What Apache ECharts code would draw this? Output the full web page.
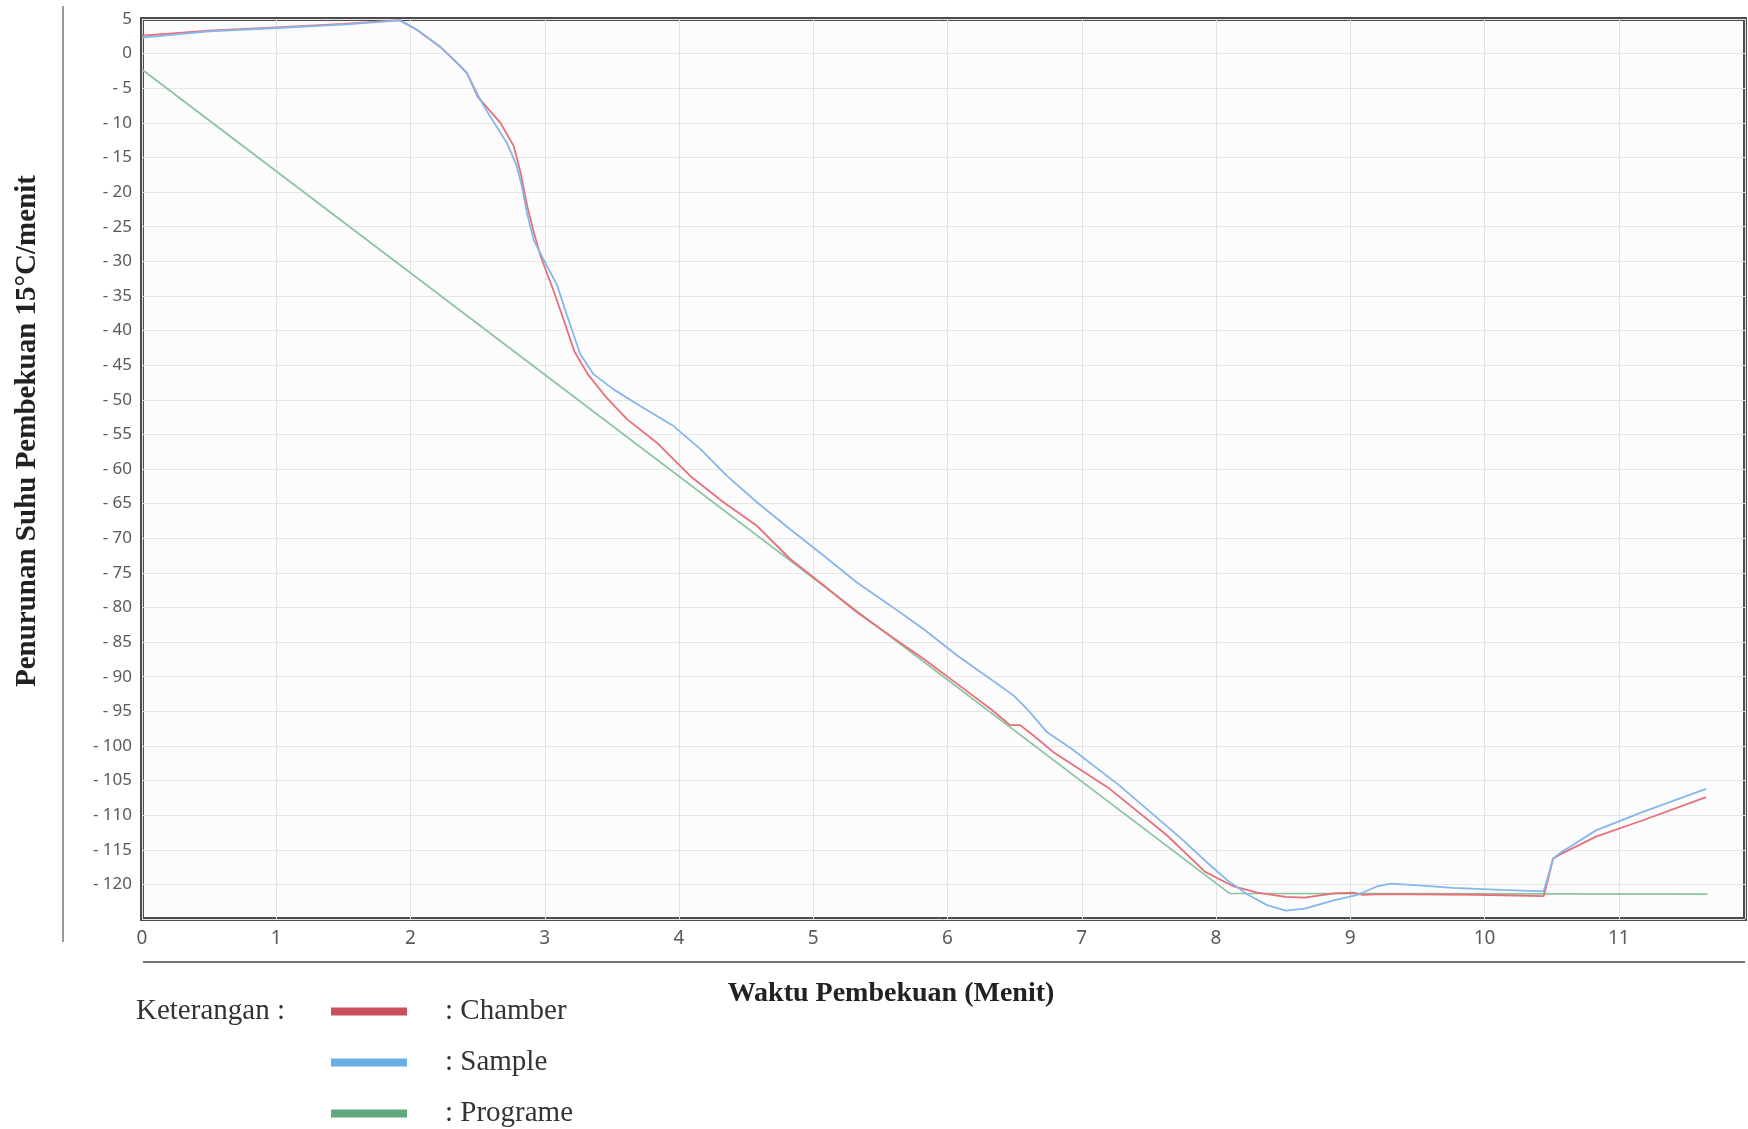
<!DOCTYPE html>
<html>
<head>
<meta charset="utf-8">
<script src="https://cdn.jsdelivr.net/npm/echarts@6/dist/echarts.min.js"></script>
<style>
  html, body { margin: 0; padding: 0; background: #ffffff; }
  #chart { width: 1748px; height: 1129px; }
</style>
</head>
<body>
<div id="chart"></div>
<script>
// Chamber (red)
var chamberTime = [0, 0.5, 1.0, 1.5, 1.92, 2.05, 2.22, 2.35, 2.42, 2.50, 2.67, 2.77, 2.82, 2.87, 2.92, 2.97, 3.07, 3.14, 3.22, 3.32, 3.46, 3.612, 3.835, 4.083, 4.331, 4.58, 4.828, 5.076, 5.325, 5.573, 5.821, 6.069, 6.317, 6.466, 6.54, 6.64, 6.789, 7.208, 7.634, 7.919, 8.132, 8.309, 8.52, 8.66, 8.877, 9.02, 9.09, 9.232, 9.943, 10.44, 10.475, 10.51, 10.56, 10.83, 11.185, 11.65]
var chamberTemp = [2.6, 3.3, 3.8, 4.3, 4.85, 3.4, 1.0, -1.4, -2.8, -6.2, -10.0, -13.4, -17.2, -22.1, -25.9, -29.3, -34.5, -38.4, -43.0, -46.3, -49.7, -52.8, -56.2, -61.0, -64.8, -68.2, -73.0, -76.8, -80.7, -84.1, -87.4, -91.0, -94.6, -97.0, -97.0, -98.5, -100.9, -106.2, -112.9, -118.2, -120.3, -121.2, -121.8, -121.9, -121.3, -121.2, -121.5, -121.4, -121.5, -121.7, -119.1, -116.3, -115.7, -113.1, -110.7, -107.4]

// Sample (blue)
var sampleTime = [0, 0.5, 1.0, 1.5, 1.92, 2.05, 2.22, 2.35, 2.42, 2.52, 2.594, 2.718, 2.793, 2.83, 2.867, 2.917, 2.99, 3.091, 3.165, 3.264, 3.363, 3.512, 3.711, 3.959, 4.158, 4.357, 4.58, 4.828, 5.076, 5.325, 5.573, 5.821, 6.069, 6.317, 6.491, 6.59, 6.74, 6.924, 7.279, 7.741, 7.954, 8.096, 8.238, 8.38, 8.52, 8.66, 8.877, 9.055, 9.197, 9.303, 9.48, 9.765, 10.12, 10.44, 10.475, 10.51, 10.56, 10.83, 11.185, 11.65]
var sampleTemp = [2.3, 3.2, 3.7, 4.2, 4.8, 3.4, 1.0, -1.4, -2.8, -6.7, -9.1, -12.9, -16.3, -19.2, -23.0, -26.9, -29.7, -33.4, -37.8, -43.4, -46.3, -48.5, -50.9, -53.8, -57.1, -61.0, -64.8, -68.7, -72.5, -76.4, -79.7, -83.1, -86.9, -90.3, -92.7, -94.6, -98.0, -100.4, -105.7, -113.4, -117.2, -119.6, -121.5, -123.0, -123.8, -123.5, -122.3, -121.5, -120.3, -119.9, -120.1, -120.5, -120.8, -121.0, -118.7, -116.3, -115.5, -112.2, -109.5, -106.2]

// Programe (green)
var programeTime = [0, 8.1, 11.66]
var programeTemp = [-2.3, -121.3, -121.4]

function pairs(t, v) {
  return t.map(function (x, i) { return [x, v[i]] })
}

var myChart = echarts.init(document.getElementById('chart'))

var serif = '"Liberation Serif", "Times New Roman", serif'

var option = {
  backgroundColor: '#ffffff',
  animation: false,
  grid: {
    left: 142,
    right: 3,
    top: 19,
    bottom: 210,
    show: true,
    borderColor: '#4c4c4c',
    borderWidth: 4,
    backgroundColor: '#fcfcfc'
  },
  legend: {
    left: 331,
    top: 997,
    height: 132,
    padding: 0,
    orient: 'vertical',
    itemWidth: 76,
    itemHeight: 8,
    itemGap: 22,
    icon: 'rect',
    selectedMode: false,
    formatter: function (name) { return '{t|: ' + name + '}' },
    textStyle: {
      rich: {
        t: {
          fontFamily: serif,
          fontSize: 29,
          lineHeight: 30,
          color: '#333',
          padding: [0, 0, 0, 33]
        }
      }
    },
    data: [
      { name: 'Chamber', itemStyle: { color: '#c9505a' } },
      { name: 'Sample', itemStyle: { color: '#6aaee3' } },
      { name: 'Programe', itemStyle: { color: '#62a87c' } }
    ]
  },
  xAxis: {
    type: 'value',
    min: 0,
    max: 11.94,
    interval: 1,
    axisLine: { show: false },
    axisTick: { show: false },
    axisLabel: {
      margin: 10,
      fontFamily: 'Noto Sans',
      fontSize: 19,
      color: '#5a5a5a',
      formatter: function (v) { return Number.isInteger(v) ? String(v) : '' }
    },
    splitLine: { show: true, lineStyle: { color: '#e2e2e2', width: 1 } }
  },
  yAxis: {
    type: 'value',
    min: -125,
    max: 5,
    interval: 5,
    axisLine: { show: false },
    axisTick: { show: false },
    axisLabel: {
      margin: 10,
      fontFamily: 'Noto Sans',
      fontSize: 17,
      color: '#5a5a5a',
      formatter: function (v) {
        if (v === -125) return ''
        return v < 0 ? '- ' + (-v) : String(v)
      }
    },
    splitLine: { show: true, lineStyle: { color: '#e6e6e6', width: 1 } }
  },
  graphic: [
    // frame lines from the scanned page
    { type: 'line', shape: { x1: 63, y1: 6, x2: 63, y2: 942 }, style: { stroke: '#777', lineWidth: 1.5 } },
    { type: 'line', shape: { x1: 143, y1: 962, x2: 1745, y2: 962 }, style: { stroke: '#777', lineWidth: 2 } },
    {
      type: 'text', x: 28, y: 431, rotation: Math.PI / 2,
      style: {
        text: 'Penurunan Suhu Pembekuan 15°C/menit',
        font: 'bold 29px ' + serif,
        fill: '#222', textAlign: 'center', textVerticalAlign: 'middle'
      }
    },
    {
      type: 'text', x: 891, y: 994,
      style: {
        text: 'Waktu Pembekuan (Menit)',
        font: 'bold 28px ' + serif,
        fill: '#222', textAlign: 'center', textVerticalAlign: 'middle'
      }
    },
    {
      type: 'text', x: 136, y: 1011,
      style: {
        text: 'Keterangan :',
        font: '29px ' + serif,
        fill: '#333', textAlign: 'left', textVerticalAlign: 'middle'
      }
    }
  ],
  series: [
    {
      name: 'Programe',
      type: 'line',
      showSymbol: false,
      data: pairs(programeTime, programeTemp),
      itemStyle: { color: '#62a87c' },
      lineStyle: { color: '#8cc3a0', width: 1.8 },
      z: 2
    },
    {
      name: 'Chamber',
      type: 'line',
      showSymbol: false,
      data: pairs(chamberTime, chamberTemp),
      itemStyle: { color: '#c9505a' },
      lineStyle: { color: '#e86f7a', width: 1.8 },
      z: 3
    },
    {
      name: 'Sample',
      type: 'line',
      showSymbol: false,
      data: pairs(sampleTime, sampleTemp),
      itemStyle: { color: '#6aaee3' },
      lineStyle: { color: '#86b6ec', width: 1.8 },
      z: 4
    }
  ]
}

myChart.setOption(option)
</script>
</body>
</html>
